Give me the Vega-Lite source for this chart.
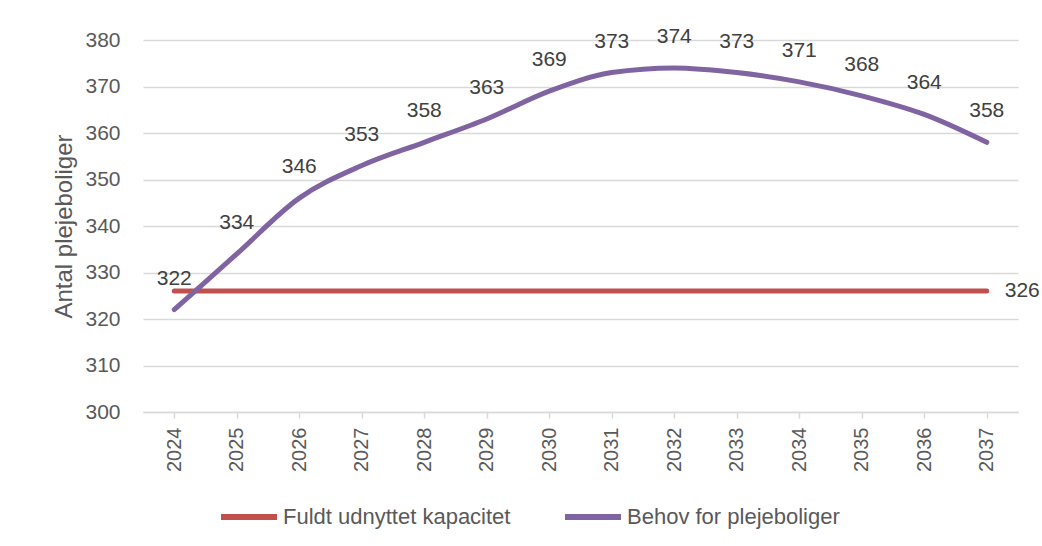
{
  "$schema": "https://vega.github.io/schema/vega-lite/v6.json",
  "width": 875,
  "height": 372,
  "autosize": {"type": "none"},
  "padding": {"left": 143, "top": 40, "right": 24, "bottom": 134},
  "background": "white",
  "config": {
    "view": {"stroke": null},
    "font": "Liberation Sans"
  },
  "data": {
    "values": [
      {"year": "2024", "serie": "Fuldt udnyttet kapacitet", "value": 326},
      {"year": "2025", "serie": "Fuldt udnyttet kapacitet", "value": 326},
      {"year": "2026", "serie": "Fuldt udnyttet kapacitet", "value": 326},
      {"year": "2027", "serie": "Fuldt udnyttet kapacitet", "value": 326},
      {"year": "2028", "serie": "Fuldt udnyttet kapacitet", "value": 326},
      {"year": "2029", "serie": "Fuldt udnyttet kapacitet", "value": 326},
      {"year": "2030", "serie": "Fuldt udnyttet kapacitet", "value": 326},
      {"year": "2031", "serie": "Fuldt udnyttet kapacitet", "value": 326},
      {"year": "2032", "serie": "Fuldt udnyttet kapacitet", "value": 326},
      {"year": "2033", "serie": "Fuldt udnyttet kapacitet", "value": 326},
      {"year": "2034", "serie": "Fuldt udnyttet kapacitet", "value": 326},
      {"year": "2035", "serie": "Fuldt udnyttet kapacitet", "value": 326},
      {"year": "2036", "serie": "Fuldt udnyttet kapacitet", "value": 326},
      {"year": "2037", "serie": "Fuldt udnyttet kapacitet", "value": 326},
      {"year": "2024", "serie": "Behov for plejeboliger", "value": 322},
      {"year": "2025", "serie": "Behov for plejeboliger", "value": 334},
      {"year": "2026", "serie": "Behov for plejeboliger", "value": 346},
      {"year": "2027", "serie": "Behov for plejeboliger", "value": 353},
      {"year": "2028", "serie": "Behov for plejeboliger", "value": 358},
      {"year": "2029", "serie": "Behov for plejeboliger", "value": 363},
      {"year": "2030", "serie": "Behov for plejeboliger", "value": 369},
      {"year": "2031", "serie": "Behov for plejeboliger", "value": 373},
      {"year": "2032", "serie": "Behov for plejeboliger", "value": 374},
      {"year": "2033", "serie": "Behov for plejeboliger", "value": 373},
      {"year": "2034", "serie": "Behov for plejeboliger", "value": 371},
      {"year": "2035", "serie": "Behov for plejeboliger", "value": 368},
      {"year": "2036", "serie": "Behov for plejeboliger", "value": 364},
      {"year": "2037", "serie": "Behov for plejeboliger", "value": 358}
    ]
  },
  "encoding": {
    "x": {
      "field": "year",
      "type": "ordinal",
      "scale": {"type": "point", "padding": 0.5},
      "axis": {
        "title": null,
        "labelAngle": -90,
        "labelAlign": "right",
        "labelBaseline": "middle",
        "labelFontSize": 20,
        "labelColor": "#595959",
        "labelPadding": 9,
        "domainColor": "#D9D9D9",
        "domainWidth": 1.5,
        "tickColor": "#D9D9D9",
        "tickWidth": 1.5,
        "tickSize": 6,
        "grid": false
      }
    },
    "y": {
      "field": "value",
      "type": "quantitative",
      "scale": {"domain": [300, 380], "nice": false, "zero": false},
      "axis": {
        "title": "Antal plejeboliger",
        "titleFontSize": 24,
        "titleFontWeight": "normal",
        "titleColor": "#595959",
        "titlePadding": 8,
        "values": [300, 310, 320, 330, 340, 350, 360, 370, 380],
        "labelFontSize": 21,
        "labelColor": "#595959",
        "labelPadding": 23,
        "domain": false,
        "ticks": false,
        "gridColor": "#D9D9D9",
        "gridWidth": 1.5
      }
    }
  },
  "layer": [
    {
      "mark": {"type": "line", "strokeWidth": 5, "strokeCap": "round", "strokeJoin": "round", "interpolate": "monotone"},
      "encoding": {
        "color": {
          "field": "serie",
          "type": "nominal",
          "sort": ["Fuldt udnyttet kapacitet", "Behov for plejeboliger"],
          "scale": {
            "domain": ["Fuldt udnyttet kapacitet", "Behov for plejeboliger"],
            "range": ["#C0504D", "#8064A2"]
          },
          "legend": {
            "title": null,
            "orient": "none",
            "direction": "horizontal",
            "legendX": 75,
            "legendY": 446,
            "symbolType": "stroke",
            "symbolSize": 3136,
            "symbolStrokeWidth": 6,
            "labelFontSize": 22,
            "labelColor": "#595959",
            "labelOffset": 3,
            "columnPadding": 42,
            "labelLimit": 400
          }
        }
      }
    },
    {
      "transform": [{"filter": "datum.serie === 'Behov for plejeboliger'"}],
      "mark": {"type": "text", "dy": -31, "fontSize": 21, "color": "#404040", "baseline": "middle"},
      "encoding": {"text": {"field": "value", "type": "quantitative"}}
    },
    {
      "transform": [{"filter": "datum.serie === 'Fuldt udnyttet kapacitet' && datum.year === '2037'"}],
      "mark": {"type": "text", "dx": 18, "align": "left", "fontSize": 21, "color": "#404040", "baseline": "middle"},
      "encoding": {"text": {"field": "value", "type": "quantitative"}}
    }
  ]
}
